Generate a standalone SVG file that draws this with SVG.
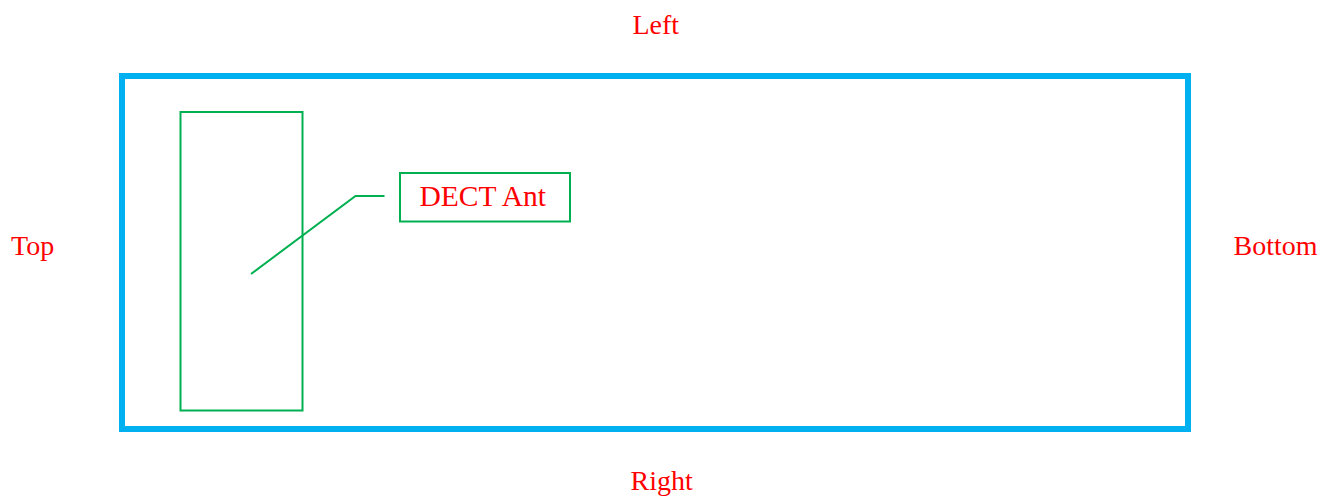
<svg xmlns="http://www.w3.org/2000/svg" width="1322" height="497" viewBox="0 0 1322 497">
<style>
.lbl{font-family:"Liberation Serif","Times New Roman",serif;font-size:28px;fill:#FF0000}
.g{fill:none;stroke:#00B050;stroke-width:2}
</style>
<rect width="1322" height="497" fill="#fff"/>
<g id="board"><rect x="122" y="76" width="1066" height="353" fill="none" stroke="#00B0F0" stroke-width="6"/></g>
<g id="antenna"><rect class="g" x="180.5" y="112" width="122" height="298.5"/></g>
<g id="dect-label"><rect class="g" x="400" y="173" width="170" height="48.5"/><text class="lbl" x="419.5" y="206" style="font-size:29.5px">DECT Ant</text></g>
<g id="connectors"><polyline class="g" points="251,274 355.5,196 384.5,196"/></g>
<g id="side-left"><text class="lbl" x="632.5" y="33.5">Left</text></g>
<g id="side-top"><text class="lbl" x="11" y="255">Top</text></g>
<g id="side-bottom"><text class="lbl" x="1233.5" y="255">Bottom</text></g>
<g id="side-right"><text class="lbl" x="630.5" y="490">Right</text></g>
</svg>
